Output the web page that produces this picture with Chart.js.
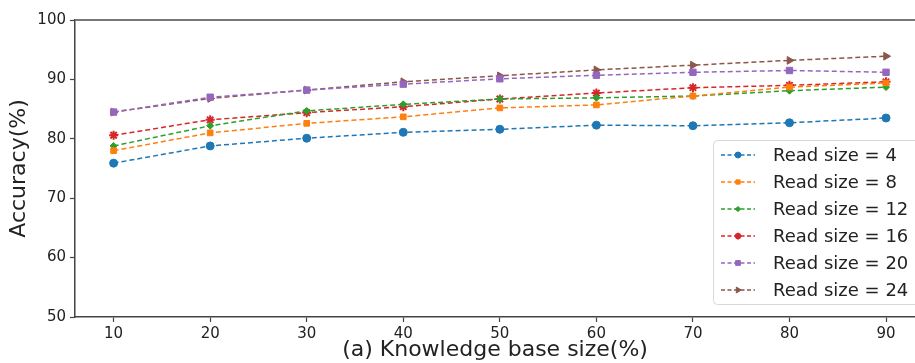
<!DOCTYPE html>
<html>
<head>
<meta charset="utf-8">
<script src="https://cdn.jsdelivr.net/npm/chart.js@4/dist/chart.umd.min.js"></script>
<style>
  html, body { margin: 0; padding: 0; background: #fff; }
  #wrap { width: 915px; height: 363px; }
</style>
</head>
<body>
<div id="wrap"><canvas id="accChart"></canvas></div>
<script>
const kbSize = [10, 20, 30, 40, 50, 60, 70, 80, 90];
const xTicks = [10, 20, 30, 40, 50, 60, 70, 80, 90];
const yTicks = [50, 60, 70, 80, 90, 100];

const read4  = [75.9, 78.8, 80.1, 81.1, 81.6, 82.3, 82.2, 82.7, 83.5];
const read8  = [78.0, 81.0, 82.6, 83.7, 85.2, 85.7, 87.2, 88.7, 89.4];
const read12 = [78.8, 82.2, 84.7, 85.8, 86.7, 86.9, 87.2, 88.1, 88.7];
const read16 = [80.6, 83.2, 84.4, 85.4, 86.7, 87.7, 88.6, 89.0, 89.6];
const read20 = [84.5, 87.0, 88.2, 89.2, 90.1, 90.7, 91.2, 91.5, 91.2];
const read24 = [84.5, 86.8, 88.2, 89.6, 90.6, 91.6, 92.4, 93.2, 93.9];

const FONT = "'DejaVu Sans', sans-serif";

function makeSet(label, values, color, style, radius, rotation) {
  return {
    label: label,
    data: kbSize.map((x, i) => ({ x: x, y: values[i] })),
    borderColor: color,
    backgroundColor: color,
    borderWidth: 1.5,
    borderDash: [5, 3],
    pointStyle: style,
    pointRadius: radius,
    pointRotation: rotation || 0,
    pointBorderWidth: style === 'star' ? 2 : 1,
    pointBorderColor: color,
    pointBackgroundColor: color,
    tension: 0
  };
}

const datasets = [
  makeSet('Read size = 4', read4, '#1f77b4', 'circle', 4),
  makeSet('Read size = 8', read8, '#ff7f0e', 'rect', 4),
  makeSet('Read size = 12', read12, '#2ca02c', 'rectRot', 3.5),
  makeSet('Read size = 16', read16, '#d62728', 'star', 4.5),
  makeSet('Read size = 20', read20, '#9467bd', 'rect', 4.5),
  makeSet('Read size = 24', read24, '#8c564b', 'triangle', 4.5, 90)
];

// top spine and the legend box in the lower right corner
const framePlugin = {
  id: 'framePlugin',
  afterDraw(chart) {
    const ctx = chart.ctx;
    const a = chart.chartArea;
    ctx.save();
    ctx.strokeStyle = '#777';
    ctx.lineWidth = 2;
    ctx.beginPath();
    ctx.moveTo(a.left, a.top);
    ctx.lineTo(a.right, a.top);
    ctx.stroke();

    const bx = 713, by = 140, bw = 215, bh = 164;
    ctx.fillStyle = 'rgba(255,255,255,0.85)';
    ctx.strokeStyle = '#d8d8d8';
    ctx.lineWidth = 1;
    ctx.beginPath();
    ctx.roundRect(bx + 0.5, by + 0.5, bw, bh, 4);
    ctx.fill();
    ctx.stroke();

    ctx.font = '18px ' + FONT;
    ctx.textBaseline = 'middle';
    chart.data.datasets.forEach((ds, i) => {
      const y = by + 15 + i * 27;
      ctx.strokeStyle = ds.borderColor;
      ctx.lineWidth = 1.3;
      ctx.setLineDash([4, 2.5]);
      ctx.beginPath();
      ctx.moveTo(721, y);
      ctx.lineTo(755, y);
      ctx.stroke();
      ctx.setLineDash([]);
      ctx.fillStyle = ds.backgroundColor;
      ctx.strokeStyle = ds.borderColor;
      ctx.lineWidth = ds.pointBorderWidth;
      Chart.helpers.drawPoint(ctx, {
        pointStyle: ds.pointStyle,
        rotation: ds.pointRotation,
        radius: ds.pointRadius * 0.75,
        borderWidth: ds.pointBorderWidth
      }, 738, y);
      ctx.fillStyle = '#222';
      ctx.fillText(ds.label, 773, y + 1);
    });
    ctx.restore();
  }
};

new Chart(document.getElementById('accChart'), {
  type: 'line',
  data: { datasets: datasets },
  options: {
    responsive: true,
    maintainAspectRatio: false,
    animation: false,
    layout: { autoPadding: false, padding: { top: 20, right: 0, left: 0, bottom: 0 } },
    plugins: {
      legend: { display: false },
      tooltip: { enabled: false }
    },
    scales: {
      x: {
        type: 'linear',
        min: 6,
        max: 93,
        afterBuildTicks(scale) { scale.ticks = xTicks.map(v => ({ value: v })); },
        afterFit(scale) { scale.height = 46; },
        grid: { drawOnChartArea: false, drawTicks: true, tickLength: 5, color: '#444', tickWidth: 1.2 },
        border: { display: true, color: '#444', width: 1.5 },
        ticks: { font: { family: FONT, size: 15 }, color: '#222', padding: 3, maxRotation: 0 },
        title: { display: true, text: '(a) Knowledge base size(%)', font: { family: FONT, size: 22 }, color: '#222', padding: { top: 0, bottom: 0 } }
      },
      y: {
        min: 50,
        max: 100,
        afterBuildTicks(scale) { scale.ticks = yTicks.map(v => ({ value: v })); },
        afterFit(scale) { scale.width = 75; },
        grid: { drawOnChartArea: false, drawTicks: true, tickLength: 5, color: '#444', tickWidth: 1.2 },
        border: { display: true, color: '#444', width: 1.5 },
        ticks: { font: { family: FONT, size: 15 }, color: '#222', padding: 4 },
        title: { display: true, text: 'Accuracy(%)', font: { family: FONT, size: 22 }, color: '#222', padding: { top: 6, bottom: 0 } }
      }
    }
  },
  plugins: [framePlugin]
});
</script>
</body>
</html>
